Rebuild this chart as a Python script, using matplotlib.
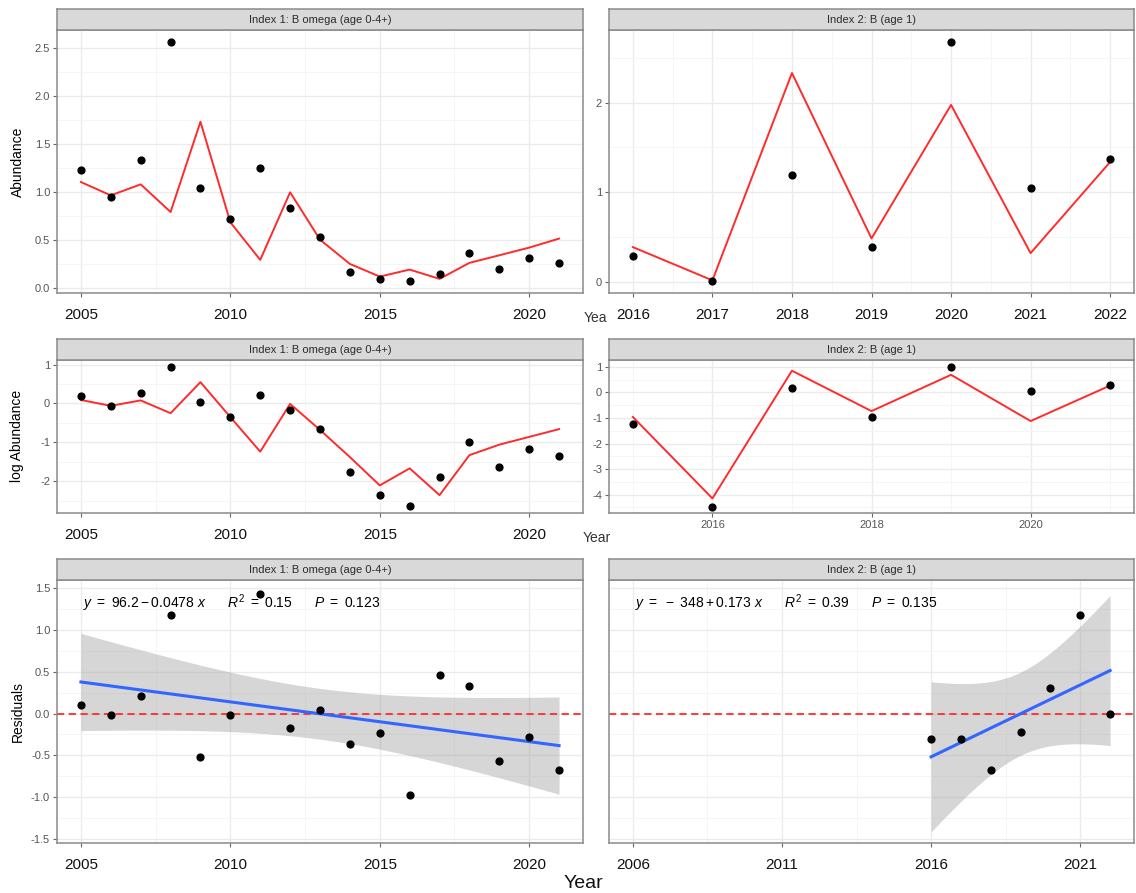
import matplotlib.pyplot as plt
import numpy as np

plt.rcParams['font.family'] = ['Liberation Sans', 'DejaVu Sans']
plt.rcParams['mathtext.fontset'] = 'custom'
plt.rcParams['mathtext.rm'] = 'Liberation Sans'
plt.rcParams['mathtext.it'] = 'Liberation Sans:italic'
plt.rcParams['axes.unicode_minus'] = False

W, H = 1136, 893

# index 1: B omega (age 0-4+)
years1 = np.arange(2005, 2022)
obs1 = [1.234, 0.95, 1.335, 2.566, 1.04, 0.718, 1.248, 0.839, 0.53, 0.173,
        0.097, 0.073, 0.153, 0.371, 0.198, 0.319, 0.264]
pred1 = [1.106, 0.967, 1.082, 0.794, 1.734, 0.687, 0.295, 0.999, 0.506, 0.253,
         0.121, 0.194, 0.097, 0.264, 0.343, 0.423, 0.517]
logobs1 = [0.205, -0.06, 0.28, 0.94, 0.03, -0.34, 0.21, -0.18, -0.65, -1.77,
           -2.35, -2.64, -1.90, -1.0, -1.64, -1.16, -1.34]
logpred1 = [0.09, -0.06, 0.08, -0.25, 0.55, -0.35, -1.24, -0.01, -0.68, -1.38,
            -2.11, -1.67, -2.36, -1.33, -1.06, -0.86, -0.66]
resid1 = [0.108, -0.02, 0.211, 1.175, -0.514, -0.02, 1.438, -0.171, 0.048, -0.37,
          -0.235, -0.972, 0.466, 0.335, -0.566, -0.283, -0.673]

# index 2: B (age 1)
years2 = np.arange(2016, 2023)
obs2 = [0.287, 0.012, 1.19, 0.384, 2.68, 1.05, 1.374]
pred2 = [0.387, 0.016, 2.33, 0.484, 1.974, 0.32, 1.337]
logyears2 = np.arange(2015, 2022)
logobs2 = [-1.25, -4.47, 0.17, -0.96, 0.99, 0.04, 0.31]
logpred2 = [-0.96, -4.15, 0.85, -0.73, 0.69, -1.12, 0.27]
resid2 = [-0.30, -0.30, -0.67, -0.215, 0.303, 1.175, 0.0]

strip1 = "Index 1: B omega (age 0-4+)"
strip2 = "Index 2: B (age 1)"
eq1 = r"$y\ =\ 96.2 - 0.0478\ x\qquad R^2\ =\ 0.15\qquad P\ =\ 0.123$"
eq2 = r"$y\ =\ -\ 348 + 0.173\ x\qquad R^2\ =\ 0.39\qquad P\ =\ 0.135$"
tq = {15: 2.131, 5: 2.571}

fig = plt.figure(figsize=(W / 100, H / 100), dpi=100)


def px_axes(x0, y0, x1, y1):
    return fig.add_axes([x0 / W, 1 - y1 / H, (x1 - x0) / W, (y1 - y0) / H])


def strip(x0, x1, y0, y1, text):
    s = px_axes(x0, y0, x1, y1)
    s.set_facecolor('#D9D9D9')
    s.set_xticks([])
    s.set_yticks([])
    for sp in s.spines.values():
        sp.set_color('#8a8a8a')
        sp.set_linewidth(1.1)
    s.text(0.5, 0.47, text, ha='center', va='center', fontsize=8, color='#2b2b2b',
           transform=s.transAxes)


def style(ax, xmaj, xmin, ymaj, ymin, xlim, ylim, big_x=True, ylabels=True):
    ax.set_xticks(xmaj)
    ax.set_xticks(xmin, minor=True)
    ax.set_yticks(ymaj)
    ax.set_yticks(ymin, minor=True)
    ax.set_xlim(*xlim)
    ax.set_ylim(*ylim)
    for sp in ax.spines.values():
        sp.set_color('#8a8a8a')
        sp.set_linewidth(1.1)
    ax.grid(which='major', color='#EBEBEB', lw=1.0)
    ax.grid(which='minor', color='#F4F4F4', lw=0.6)
    ax.set_axisbelow(True)
    ax.tick_params(which='major', length=3, color='#666666', width=0.8)
    ax.tick_params(which='minor', length=0)
    ax.tick_params(axis='y', labelsize=8, labelcolor='#555555', pad=2)
    if big_x:
        ax.tick_params(axis='x', labelsize=11, labelcolor='#111111', pad=8)
    else:
        ax.tick_params(axis='x', labelsize=8, labelcolor='#555555', pad=2)
    if not ylabels:
        ax.tick_params(axis='y', left=False, labelleft=False)


def fit_band(x, y, xs, t):
    x = np.asarray(x, float)
    y = np.asarray(y, float)
    b, a = np.polyfit(x, y, 1)
    n = len(x)
    s = np.sqrt(np.sum((y - (a + b * x)) ** 2) / (n - 2))
    xm = x.mean()
    se = s * np.sqrt(1 / n + (xs - xm) ** 2 / np.sum((x - xm) ** 2))
    fit = a + b * xs
    return fit, fit - t * se, fit + t * se


LX0, LX1, RX0, RX1 = 57, 583, 609, 1134
rows = [(9, 30, 293), (339, 360, 513), (559, 580, 843)]
xmin1 = np.arange(2002.5, 2023, 2.5)

# row 1: abundance
ax = px_axes(LX0, rows[0][1], LX1, rows[0][2])
ax.plot(years1, pred1, color='#FF2B2B', lw=1.4, zorder=2)
ax.scatter(years1, obs1, s=24, color='black', zorder=3)
style(ax, [2005, 2010, 2015, 2020], xmin1,
      np.arange(0, 2.6, 0.5), np.arange(0.25, 2.7, 0.5),
      (2004.2, 2021.8), (-0.05, 2.69))
ax.set_yticklabels(['0.0', '0.5', '1.0', '1.5', '2.0', '2.5'])
strip(LX0, LX1, rows[0][0], rows[0][1], strip1)

ax = px_axes(RX0, rows[0][1], RX1, rows[0][2])
ax.plot(years2, pred2, color='#FF2B2B', lw=1.4, zorder=2)
ax.scatter(years2, obs2, s=24, color='black', zorder=3)
style(ax, list(years2), np.arange(2015.5, 2022.6, 1.0), [0, 1, 2], [0.5, 1.5, 2.5],
      (2015.7, 2022.3), (-0.125, 2.81))
strip(RX0, RX1, rows[0][0], rows[0][1], strip2)

# row 2: log abundance
ax = px_axes(LX0, rows[1][1], LX1, rows[1][2])
ax.plot(years1, logpred1, color='#FF2B2B', lw=1.4, zorder=2)
ax.scatter(years1, logobs1, s=24, color='black', zorder=3)
style(ax, [2005, 2010, 2015, 2020], xmin1,
      [-2, -1, 0, 1], [-2.5, -1.5, -0.5, 0.5],
      (2004.2, 2021.8), (-2.82, 1.12))
strip(LX0, LX1, rows[1][0], rows[1][1], strip1)

ax = px_axes(RX0, rows[1][1], RX1, rows[1][2])
ax.plot(logyears2, logpred2, color='#FF2B2B', lw=1.4, zorder=2)
ax.scatter(logyears2, logobs2, s=24, color='black', zorder=3)
style(ax, [2016, 2018, 2020], [2015, 2017, 2019, 2021],
      [-4, -3, -2, -1, 0, 1], np.arange(-4.5, 1.6, 1.0),
      (2014.7, 2021.3), (-4.72, 1.27), big_x=False)
strip(RX0, RX1, rows[1][0], rows[1][1], strip2)

# row 3: residuals with linear trend
ax = px_axes(LX0, rows[2][1], LX1, rows[2][2])
xs = np.linspace(years1[0], years1[-1], 80)
fit, lo, hi = fit_band(years1, resid1, xs, tq[15])
ax.fill_between(xs, lo, hi, color='#999999', alpha=0.4, lw=0, zorder=2)
ax.plot(xs, fit, color='#3366FF', lw=2.2, zorder=3)
ax.axhline(0, color='#FF2B2B', lw=1.3, ls=(0, (4, 2.5)), zorder=2.5)
ax.scatter(years1, resid1, s=24, color='black', zorder=4)
style(ax, [2005, 2010, 2015, 2020], xmin1,
      np.arange(-1.5, 1.6, 0.5), np.arange(-1.25, 1.6, 0.5),
      (2004.2, 2021.8), (-1.55, 1.60))
ax.text(0.049, 0.912, eq1, transform=ax.transAxes, fontsize=10, va='center', ha='left')
strip(LX0, LX1, rows[2][0], rows[2][1], strip1)

ax = px_axes(RX0, rows[2][1], RX1, rows[2][2])
xs = np.linspace(years2[0], years2[-1], 80)
fit, lo, hi = fit_band(years2, resid2, xs, tq[5])
ax.fill_between(xs, lo, hi, color='#999999', alpha=0.4, lw=0, zorder=2)
ax.plot(xs, fit, color='#3366FF', lw=2.2, zorder=3)
ax.axhline(0, color='#FF2B2B', lw=1.3, ls=(0, (4, 2.5)), zorder=2.5)
ax.scatter(years2, resid2, s=24, color='black', zorder=4)
style(ax, [2006, 2011, 2016, 2021], [2008.5, 2013.5, 2018.5],
      np.arange(-1.5, 1.6, 0.5), np.arange(-1.25, 1.6, 0.5),
      (2005.2, 2022.8), (-1.55, 1.60), ylabels=False)
ax.text(0.05, 0.912, eq2, transform=ax.transAxes, fontsize=10, va='center', ha='left')
strip(RX0, RX1, rows[2][0], rows[2][1], strip2)

# axis titles
fig.text(18 / W, 1 - 162 / H, 'Abundance', rotation=90, ha='center', va='center', fontsize=10)
fig.text(17 / W, 1 - 436 / H, 'log Abundance', rotation=90, ha='center', va='center', fontsize=10)
fig.text(18 / W, 1 - 711 / H, 'Residuals', rotation=90, ha='center', va='center', fontsize=10)
fig.text(595 / W, 1 - 318 / H, 'Yea', ha='center', va='center', fontsize=10, color='#333333')
fig.text(597 / W, 1 - 538 / H, 'Year', ha='center', va='center', fontsize=10, color='#333333')
fig.text(583 / W, 1 - 883 / H, 'Year', ha='center', va='center', fontsize=14, color='#111111')

fig.savefig('out.png', dpi=100)
